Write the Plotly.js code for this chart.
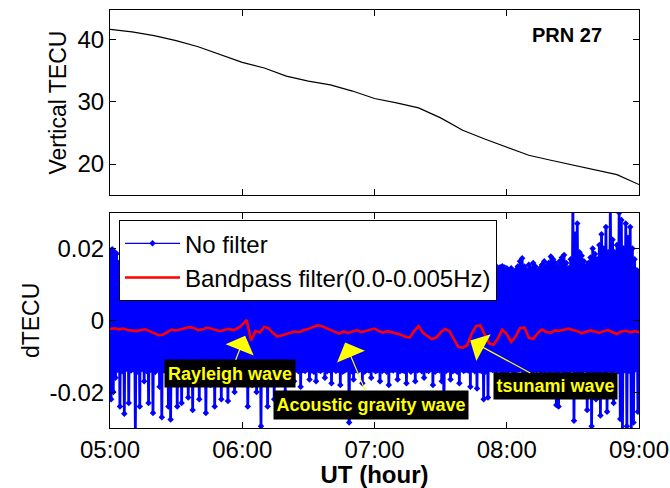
<!DOCTYPE html>
<html>
<head>
<meta charset="utf-8">
<script src="https://cdn.plot.ly/plotly-3.0.1.min.js"></script>
<style>html,body{margin:0;padding:0;background:#fff;}#chart{width:670px;height:488px;}</style>
</head>
<body>
<div id="chart"></div>
<script>
// ---------- data ----------
const xTickVals = [5, 6, 7, 8, 9];
const xTickLabels = ['05:00', '06:00', '07:00', '08:00', '09:00'];

// Vertical TEC (top panel), every 10 minutes from 05:00 to 09:00
const vtecMinutes = [0,10,20,30,40,50,60,70,80,90,100,110,120,130,140,150,160,170,180,190,200,210,220,230,240];
const vtec = [41.6,41.2,40.6,39.8,38.8,37.6,36.3,35.4,34.1,33.3,32.7,31.7,30.5,29.8,29.0,27.4,25.4,24.0,22.7,21.4,20.6,19.8,19.1,18.3,16.7];

// No filter dTECU: per-minute upper and lower extremes, 05:00 .. 09:00
const noFilterHigh = [
0.0195,0.0198,0.0191,0.0186,0.0160,0.0150,0.0146,0.0152,0.0148,0.0141,
0.0150,0.0146,0.0139,0.0152,0.0147,0.0143,0.0155,0.0149,0.0140,0.0146,
0.0151,0.0144,0.0148,0.0139,0.0153,0.0146,0.0142,0.0150,0.0147,0.0141,
0.0149,0.0153,0.0143,0.0147,0.0140,0.0151,0.0145,0.0148,0.0142,0.0150,
0.0146,0.0141,0.0152,0.0147,0.0143,0.0150,0.0144,0.0139,0.0153,0.0146,
0.0142,0.0149,0.0145,0.0151,0.0140,0.0147,0.0152,0.0143,0.0148,0.0145,
0.0150,0.0141,0.0147,0.0153,0.0144,0.0149,0.0140,0.0146,0.0151,0.0143,
0.0148,0.0145,0.0139,0.0152,0.0147,0.0142,0.0150,0.0146,0.0141,0.0149,
0.0153,0.0144,0.0148,0.0140,0.0151,0.0146,0.0143,0.0150,0.0147,0.0139,
0.0152,0.0145,0.0149,0.0142,0.0148,0.0151,0.0144,0.0140,0.0147,0.0150,
0.0143,0.0149,0.0146,0.0152,0.0141,0.0148,0.0145,0.0150,0.0142,0.0147,
0.0151,0.0144,0.0140,0.0149,0.0146,0.0153,0.0143,0.0148,0.0145,0.0150,
0.0141,0.0147,0.0152,0.0144,0.0149,0.0146,0.0140,0.0151,0.0148,0.0143,
0.0150,0.0145,0.0142,0.0153,0.0147,0.0144,0.0149,0.0141,0.0152,0.0146,
0.0143,0.0150,0.0148,0.0140,0.0147,0.0153,0.0145,0.0149,0.0142,0.0151,
0.0146,0.0144,0.0150,0.0141,0.0148,0.0152,0.0143,0.0147,0.0149,0.0145,
0.0151,0.0142,0.0146,0.0153,0.0144,0.0148,0.0150,0.0141,0.0147,0.0152,
0.0145,0.0149,0.0143,0.0150,0.0146,0.0152,0.0140,0.0148,0.0151,0.0147,
0.0145,0.0140,0.0145,0.0135,0.0140,0.0150,0.0165,0.0173,0.0150,0.0140,
0.0155,0.0145,0.0160,0.0150,0.0136,0.0145,0.0155,0.0165,0.0150,0.0160,
0.0178,0.0170,0.0160,0.0150,0.0165,0.0175,0.0182,0.0160,0.0145,0.0170,
0.0320,0.0240,0.0270,0.0190,0.0180,0.0165,0.0150,0.0160,0.0175,0.0200,
0.0185,0.0170,0.0210,0.0240,0.0200,0.0260,0.0190,0.0320,0.0225,0.0190,
0.0210,0.0300,0.0280,0.0200,0.0270,0.0230,0.0260,0.0200,0.0170,0.0140,0.0135];
const noFilterLow = [
-0.0220,-0.0200,-0.0160,-0.0138,-0.0240,-0.0142,-0.0260,-0.0135,-0.0230,-0.0140,
-0.0137,-0.0310,-0.0143,-0.0240,-0.0136,-0.0170,-0.0141,-0.0230,-0.0138,-0.0258,
-0.0144,-0.0137,-0.0185,-0.0270,-0.0140,-0.0139,-0.0240,-0.0276,-0.0136,-0.0142,
-0.0240,-0.0138,-0.0230,-0.0141,-0.0137,-0.0215,-0.0143,-0.0250,-0.0139,-0.0136,
-0.0220,-0.0142,-0.0138,-0.0258,-0.0140,-0.0180,-0.0137,-0.0240,-0.0141,-0.0139,
-0.0220,-0.0143,-0.0136,-0.0225,-0.0140,-0.0138,-0.0200,-0.0142,-0.0170,-0.0137,
-0.0150,-0.0141,-0.0240,-0.0139,-0.0180,-0.0136,-0.0200,-0.0143,-0.0295,-0.0138,
-0.0140,-0.0240,-0.0137,-0.0142,-0.0220,-0.0139,-0.0160,-0.0141,-0.0136,-0.0200,
-0.0143,-0.0138,-0.0140,-0.0170,-0.0137,-0.0142,-0.0185,-0.0139,-0.0141,-0.0136,
-0.0165,-0.0140,-0.0143,-0.0170,-0.0138,-0.0141,-0.0137,-0.0160,-0.0142,-0.0139,
-0.0175,-0.0136,-0.0141,-0.0138,-0.0180,-0.0143,-0.0140,-0.0137,-0.0285,-0.0142,
-0.0165,-0.0139,-0.0141,-0.0136,-0.0175,-0.0143,-0.0138,-0.0140,-0.0160,-0.0137,
-0.0142,-0.0139,-0.0170,-0.0141,-0.0136,-0.0143,-0.0180,-0.0138,-0.0140,-0.0137,
-0.0165,-0.0142,-0.0139,-0.0141,-0.0175,-0.0136,-0.0143,-0.0138,-0.0170,-0.0140,
-0.0137,-0.0142,-0.0160,-0.0139,-0.0141,-0.0136,-0.0180,-0.0143,-0.0138,-0.0140,
-0.0170,-0.0255,-0.0141,-0.0137,-0.0165,-0.0142,-0.0139,-0.0143,-0.0175,-0.0136,
-0.0141,-0.0138,-0.0140,-0.0185,-0.0137,-0.0142,-0.0190,-0.0139,-0.0141,-0.0220,
-0.0143,-0.0215,-0.0136,-0.0138,-0.0140,-0.0180,-0.0137,-0.0142,-0.0170,-0.0139,
-0.0141,-0.0136,-0.0140,-0.0143,-0.0138,-0.0137,-0.0132,-0.0142,-0.0139,-0.0141,
-0.0136,-0.0143,-0.0138,-0.0140,-0.0137,-0.0142,-0.0139,-0.0141,-0.0136,-0.0143,
-0.0138,-0.0140,-0.0236,-0.0240,-0.0137,-0.0142,-0.0139,-0.0200,-0.0141,-0.0136,
-0.0280,-0.0143,-0.0138,-0.0210,-0.0140,-0.0137,-0.0250,-0.0142,-0.0295,-0.0139,
-0.0220,-0.0141,-0.0265,-0.0136,-0.0143,-0.0255,-0.0138,-0.0140,-0.0230,-0.0137,
-0.0142,-0.0275,-0.0305,-0.0139,-0.0295,-0.0141,-0.0310,-0.0285,-0.0136,-0.0255,-0.0220];

// Bandpass filtered dTECU, every 2 minutes from 05:00 to 09:00
const bandpass = [
-0.0024,-0.0022,-0.0025,-0.0023,-0.0027,-0.0029,-0.0030,-0.0027,-0.0025,-0.0030,
-0.0036,-0.0041,-0.0040,-0.0032,-0.0026,-0.0028,-0.0024,-0.0022,-0.0019,-0.0021,
-0.0027,-0.0025,-0.0020,-0.0023,-0.0028,-0.0030,-0.0026,-0.0024,-0.0027,-0.0022,
-0.0012,0.0001,-0.0056,-0.0030,-0.0034,-0.0018,-0.0022,-0.0036,-0.0045,-0.0042,
-0.0037,-0.0035,-0.0031,-0.0033,-0.0027,-0.0024,-0.0018,-0.0014,-0.0016,-0.0022,
-0.0026,-0.0032,-0.0037,-0.0031,-0.0035,-0.0030,-0.0027,-0.0033,-0.0029,-0.0025,
-0.0023,-0.0030,-0.0034,-0.0030,-0.0033,-0.0036,-0.0040,-0.0046,-0.0048,-0.0030,
-0.0016,-0.0035,-0.0044,-0.0052,-0.0048,-0.0034,-0.0024,-0.0030,-0.0052,-0.0074,
-0.0076,-0.0070,-0.0038,-0.0016,-0.0014,-0.0040,-0.0064,-0.0068,-0.0050,-0.0026,
-0.0038,-0.0060,-0.0045,-0.0022,-0.0020,-0.0048,-0.0052,-0.0036,-0.0025,-0.0033,
-0.0034,-0.0028,-0.0029,-0.0026,-0.0023,-0.0027,-0.0030,-0.0036,-0.0033,-0.0028,
-0.0031,-0.0035,-0.0030,-0.0027,-0.0033,-0.0038,-0.0031,-0.0029,-0.0033,-0.0030,-0.0033];

const labels = ['Rayleigh wave', 'Acoustic gravity wave', 'tsunami wave'];
const labelHours = [6.022, 6.778, 7.724];
const labelValues = [-0.0043, -0.0062, -0.0056];

// ---------- build traces ----------
const FONT = 'Liberation Sans, Arial, sans-serif';
const vtecX = vtecMinutes.map(m => 5 + m / 60);

const blueX = [], blueY = [];
for (let m = 0; m < noFilterHigh.length; m++) {
  blueX.push(5 + m / 60); blueY.push(noFilterHigh[m]);
  blueX.push(5 + (m + 0.5) / 60); blueY.push(noFilterLow[m]);
}
const redX = bandpass.map((v, i) => 5 + (2 * i) / 60);

const traces = [
  {x: vtecX, y: vtec, xaxis: 'x2', yaxis: 'y2', type: 'scatter', mode: 'lines',
   line: {color: '#000000', width: 1.2}, showlegend: false},
  {x: blueX, y: blueY, xaxis: 'x', yaxis: 'y', type: 'scatter', mode: 'lines+markers',
   name: 'No filter', legendgroup: 'nf', showlegend: false,
   line: {color: '#0000ff', width: 2.8, simplify: false},
   marker: {color: '#0000ff', size: 5, symbol: 'diamond'}},
  // legend entry for the raw series (thin line style as in the original legend)
  {x: [null], y: [null], xaxis: 'x', yaxis: 'y', type: 'scatter', mode: 'lines+markers',
   name: 'No filter', legendgroup: 'nf', showlegend: true,
   line: {color: '#0000ff', width: 1.2}, marker: {color: '#0000ff', size: 5, symbol: 'diamond'}},
  {x: redX, y: bandpass, xaxis: 'x', yaxis: 'y', type: 'scatter', mode: 'lines',
   name: 'Bandpass filter(0.0-0.005Hz)', line: {color: '#ff0000', width: 2.6}}
];

const boxW = [128, 192, 121];
const boxH = [25, 26, 24];
const offX = [-15, 26, 85];
const offY = [38, 62, 46];

const annotations = labels.map((t, i) => ({
  x: labelHours[i], y: labelValues[i], xref: 'x', yref: 'y',
  text: t, showarrow: true, ax: offX[i], ay: offY[i],
  arrowhead: 1, arrowsize: 4.2, arrowwidth: 1.2, arrowcolor: '#ffff00',
  bgcolor: '#000000', borderpad: 1, width: boxW[i], height: boxH[i],
  font: {family: FONT, size: 18, color: '#ffff00', weight: 'bold'}
}));
annotations.push({
  xref: 'x2 domain', yref: 'y2 domain', x: 0.864, y: 0.866,
  xanchor: 'center', yanchor: 'middle',
  text: '<b>PRN 27</b>', showarrow: false,
  font: {family: FONT, size: 20, color: '#000000'}
});

const axisCommon = {
  showline: true, linecolor: '#000000', linewidth: 1, mirror: 'allticks',
  ticks: 'inside', ticklen: 6, tickwidth: 1, tickcolor: '#000000',
  showgrid: false, zeroline: false,
  tickfont: {family: FONT, size: 24, color: '#000000'}
};

const layout = {
  width: 670, height: 488,
  margin: {l: 110, r: 31, t: 10, b: 60},
  paper_bgcolor: '#ffffff', plot_bgcolor: '#ffffff',
  font: {family: FONT, color: '#000000'},
  xaxis: Object.assign({}, axisCommon, {
    domain: [0, 1], anchor: 'y', range: [5, 9],
    tickvals: xTickVals, ticktext: xTickLabels,
    title: {text: '<b>UT (hour)</b>', font: {family: FONT, size: 24}, standoff: 4}
  }),
  yaxis: Object.assign({}, axisCommon, {
    domain: [0, 0.515], anchor: 'x', range: [-0.03, 0.03],
    tickvals: [-0.02, 0, 0.02], ticktext: ['-0.02', '0', '0.02'],
    title: {text: 'dTECU', font: {family: FONT, size: 23}, standoff: 3}
  }),
  xaxis2: Object.assign({}, axisCommon, {
    domain: [0, 1], anchor: 'y2', range: [5, 9], matches: 'x',
    tickvals: xTickVals, showticklabels: false
  }),
  yaxis2: Object.assign({}, axisCommon, {
    domain: [0.557, 1], anchor: 'x2', range: [15, 44.7],
    tickvals: [20, 30, 40],
    title: {text: 'Vertical TECU', font: {family: FONT, size: 23}, standoff: 4}
  }),
  legend: {
    x: 0.017, y: 0.497, xanchor: 'left', yanchor: 'top',
    xref: 'paper', yref: 'paper',
    bgcolor: '#ffffff', bordercolor: '#000000', borderwidth: 1,
    font: {family: FONT, size: 24, color: '#000000'},
    itemwidth: 55, traceorder: 'normal', tracegroupgap: 0
  },
  annotations: annotations,
  showlegend: true
};

Plotly.newPlot('chart', traces, layout, {displayModeBar: false, staticPlot: true});
</script>
</body>
</html>
